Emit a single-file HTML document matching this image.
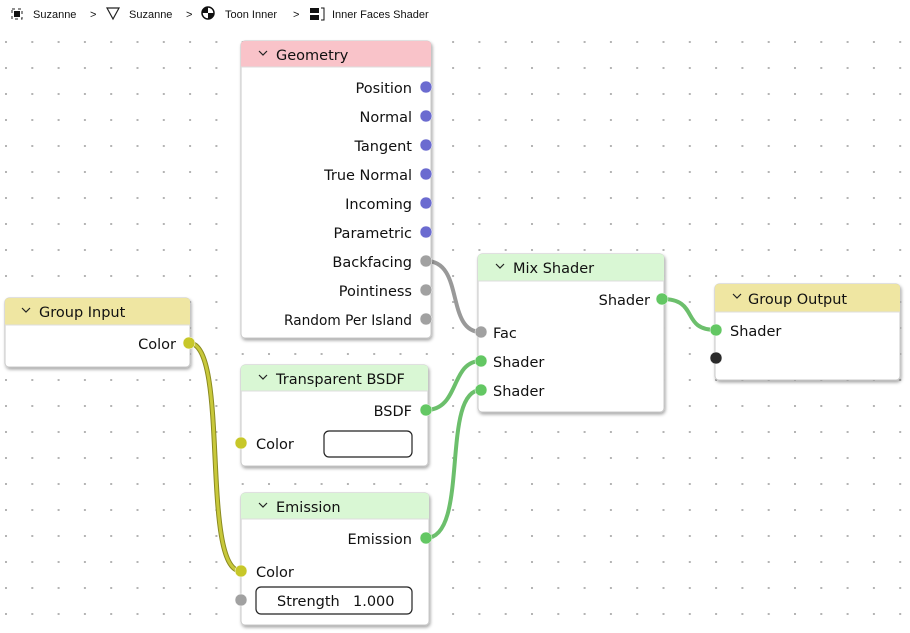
<!DOCTYPE html>
<html><head><meta charset="utf-8"><style>
html,body{margin:0;padding:0;background:#fff;width:910px;height:633px;overflow:hidden}
svg{display:block}
text{font-family:"DejaVu Sans","Liberation Sans",sans-serif;fill:#111}
.l{font-size:14.5px}
.bc{font-size:11px;font-family:"Liberation Sans",sans-serif}
</style></head><body>
<svg width="910" height="633" viewBox="0 0 910 633" xmlns="http://www.w3.org/2000/svg">
<defs>
<pattern id="dots" x="5" y="41" width="26.3" height="26" patternUnits="userSpaceOnUse">
<rect x="0" y="0" width="2" height="2" fill="#b4b4b4"/>
</pattern>
<filter id="sh" x="-10%" y="-10%" width="130%" height="130%">
<feDropShadow dx="1" dy="2" stdDeviation="1.5" flood-color="#000" flood-opacity="0.35"/>
</filter>
</defs>
<rect x="0" y="36" width="910" height="597" fill="url(#dots)"/>
<rect x="0" y="0" width="910" height="36" fill="#fff"/>

<g>
<rect x="12" y="9" width="10" height="10" fill="none" stroke="#222" stroke-width="1" stroke-dasharray="3,3"/>
<rect x="14" y="11" width="6" height="6" fill="#111"/>
<text class="bc" x="33" y="18">Suzanne</text>
<text class="bc" x="90" y="18">&gt;</text>
<path d="M107 8 L119 8 L113 19 Z" fill="none" stroke="#222" stroke-width="1.2"/>
<text class="bc" x="129" y="18">Suzanne</text>
<text class="bc" x="186" y="18">&gt;</text>
<circle cx="208" cy="13" r="6" fill="none" stroke="#111" stroke-width="1.5"/>
<path d="M208 13 L208 7 A6 6 0 0 0 202 13 Z M208 13 L214 13 A6 6 0 0 1 208 19 Z" fill="#111"/>
<text class="bc" x="225" y="18">Toon Inner</text>
<text class="bc" x="293" y="18">&gt;</text>
<rect x="310" y="8" width="9" height="5" fill="#111"/><rect x="310" y="15" width="9" height="5" fill="#111"/>
<path d="M321 8 L324 8 L324 20 L321 20" fill="none" stroke="#111"/>
<text class="bc" x="332" y="18">Inner Faces Shader</text>
</g>

<g fill="none" stroke-linecap="round">
<path d="M189 343 C 230 343, 200 571, 241 571" stroke="#8a8a20" stroke-width="5"/>
<path d="M189 343 C 230 343, 200 571, 241 571" stroke="#c8c83a" stroke-width="3"/>
<path d="M426 261 C 465 261, 445 332, 481 332" stroke="#999" stroke-width="4"/>
<path d="M426 410 C 460 410, 450 361, 481 361" stroke="#6cbf6c" stroke-width="4"/>
<path d="M426 538 C 470 538, 440 390, 481 390" stroke="#6cbf6c" stroke-width="4"/>
<path d="M662 299 C 700 299, 680 330, 716 330" stroke="#6cbf6c" stroke-width="4"/>
</g>

<g filter="url(#sh)">
<rect x="241" y="41" width="190" height="297" rx="4" fill="#fff" stroke="#c8c8c8"/>
<rect x="5" y="298" width="185" height="69" rx="4" fill="#fff" stroke="#c8c8c8"/>
<rect x="241" y="365" width="187" height="101" rx="4" fill="#fff" stroke="#c8c8c8"/>
<rect x="241" y="493" width="188" height="132" rx="4" fill="#fff" stroke="#c8c8c8"/>
<rect x="478" y="254" width="186" height="158" rx="4" fill="#fff" stroke="#c8c8c8"/>
<rect x="715" y="284" width="185" height="96" rx="4" fill="#fff" stroke="#c8c8c8"/>
</g>
<path d="M241 67 L241 45 Q241 41 245 41 L427 41 Q431 41 431 45 L431 67 Z" fill="#f9c3c9"/>
<path d="M5 325 L5 302 Q5 298 9 298 L186 298 Q190 298 190 302 L190 325 Z" fill="#efe6a2"/>
<path d="M241 391 L241 369 Q241 365 245 365 L424 365 Q428 365 428 369 L428 391 Z" fill="#d9f7d4"/>
<path d="M241 519 L241 497 Q241 493 245 493 L425 493 Q429 493 429 497 L429 519 Z" fill="#d9f7d4"/>
<path d="M478 281 L478 258 Q478 254 482 254 L660 254 Q664 254 664 258 L664 281 Z" fill="#d9f7d4"/>
<path d="M715 312 L715 288 Q715 284 719 284 L896 284 Q900 284 900 288 L900 312 Z" fill="#efe6a2"/>
<g stroke="#ddd"><line x1="241" y1="67" x2="431" y2="67"/><line x1="5" y1="325" x2="190" y2="325"/><line x1="241" y1="391" x2="428" y2="391"/><line x1="241" y1="519" x2="429" y2="519"/><line x1="478" y1="281" x2="664" y2="281"/><line x1="715" y1="312" x2="900" y2="312"/></g>

<g fill="none" stroke="#222" stroke-width="1.2">
<path d="M259 51 L263 55 L267 51"/><path d="M22 308 L26 312 L30 308"/><path d="M259 375 L263 379 L267 375"/>
<path d="M259 503 L263 507 L267 503"/><path d="M496 264 L500 268 L504 264"/><path d="M733 294 L737 298 L741 294"/>
</g>
<text class="l" x="276" y="60">Geometry</text>
<text class="l" x="39" y="317">Group Input</text>
<text class="l" x="276" y="384">Transparent BSDF</text>
<text class="l" x="276" y="512">Emission</text>
<text class="l" x="513" y="273">Mix Shader</text>
<text class="l" x="748" y="304">Group Output</text>

<g class="l" text-anchor="end">
<text x="412" y="93">Position</text>
<text x="412" y="122">Normal</text>
<text x="412" y="151">Tangent</text>
<text x="412" y="180">True Normal</text>
<text x="412" y="209">Incoming</text>
<text x="412" y="238">Parametric</text>
<text x="412" y="267">Backfacing</text>
<text x="412" y="296">Pointiness</text>
<text x="412" y="325" textLength="128" lengthAdjust="spacingAndGlyphs">Random Per Island</text>
<text x="176" y="349">Color</text>
<text x="412" y="416">BSDF</text>
<text x="412" y="544">Emission</text>
<text x="650" y="305">Shader</text>
</g>
<g class="l">
<text x="256" y="449">Color</text>
<text x="256" y="577">Color</text>
<text x="493" y="338">Fac</text>
<text x="493" y="367">Shader</text>
<text x="493" y="396">Shader</text>
<text x="730" y="336">Shader</text>
</g>
<rect x="324" y="431" width="88" height="26" rx="5" fill="#fff" stroke="#222" stroke-width="1.2"/>
<rect x="256" y="587" width="156" height="27" rx="5" fill="#fff" stroke="#222" stroke-width="1.2"/>
<text class="l" x="277" y="606">Strength</text>
<text class="l" x="353" y="606">1.000</text>

<g stroke="#fff" stroke-width="0.5">
<g fill="#6b6bd0">
<circle cx="426" cy="87" r="6"/><circle cx="426" cy="116" r="6"/><circle cx="426" cy="145" r="6"/>
<circle cx="426" cy="174" r="6"/><circle cx="426" cy="203" r="6"/><circle cx="426" cy="232" r="6"/>
</g>
<g fill="#a1a1a1">
<circle cx="426" cy="261" r="6"/><circle cx="426" cy="290" r="6"/><circle cx="426" cy="319" r="6"/>
<circle cx="241" cy="600" r="6"/><circle cx="481" cy="332" r="6"/>
</g>
<g fill="#c7c729">
<circle cx="189" cy="343" r="6"/><circle cx="241" cy="443" r="6"/><circle cx="241" cy="571" r="6"/>
</g>
<g fill="#63c763">
<circle cx="426" cy="410" r="6"/><circle cx="426" cy="538" r="6"/><circle cx="662" cy="299" r="6"/>
<circle cx="481" cy="361" r="6"/><circle cx="481" cy="390" r="6"/><circle cx="716" cy="330" r="6"/>
</g>
<circle cx="716" cy="358" r="6" fill="#2a2a2a"/>
</g>
</svg>
</body></html>
